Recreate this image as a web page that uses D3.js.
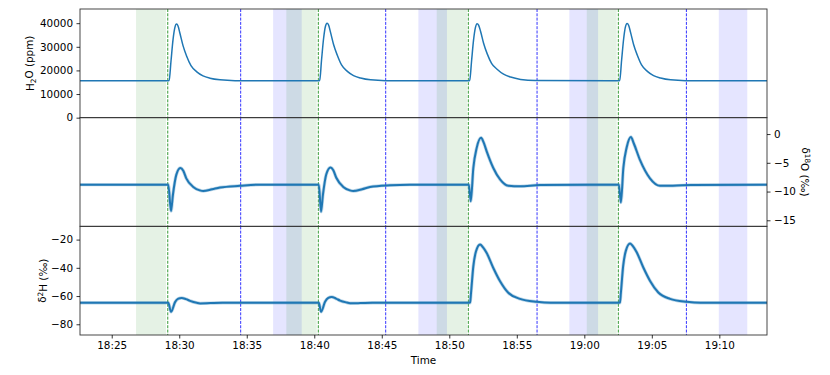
<!DOCTYPE html>
<html>
<head>
<meta charset="utf-8">
<script src="https://cdn.jsdelivr.net/npm/d3@7"></script>
<style>
  body { margin: 0; background: #fff; }
  text { font-family: "DejaVu Sans", sans-serif; fill: #000; }
</style>
</head>
<body>
<div id="canvas"></div>
<script>
// times are minutes after 18:00
var xDomain = [22.65, 73.53];

var greenSpans = [[26.80, 29.02], [37.93, 40.18], [49.07, 51.31], [60.18, 62.40]];
var blueSpans = [[36.95, 39.07], [47.71, 49.83], [58.89, 61.02], [69.96, 72.07]];
var greenLines = [29.15, 40.30, 51.41, 62.52];
var blueLines = [34.55, 45.29, 56.50, 67.56];

// H2O (ppm)
var h2oPoints = [
  [22.65, 15600], [29.15, 15600],
  [29.25, 15700], [29.39, 24000], [29.54, 33000], [29.67, 38000], [29.80, 39600], [29.91, 38800],
  [30.06, 35500], [30.28, 30500], [30.55, 26000], [30.87, 22000], [31.30, 19400], [31.76, 17700],
  [32.28, 16700], [33.02, 16000], [34.13, 15650], [40.30, 15600],
  [40.40, 15700], [40.54, 24500], [40.69, 33500], [40.82, 38500], [40.95, 40000], [41.06, 39200],
  [41.21, 36000], [41.43, 31000], [41.70, 26500], [42.02, 22300], [42.45, 19600], [42.91, 17800],
  [43.43, 16800], [44.17, 16000], [45.28, 15650], [51.41, 15600],
  [51.51, 15700], [51.65, 24000], [51.80, 33000], [51.93, 38000], [52.06, 39800], [52.17, 39200],
  [52.32, 36500], [52.54, 31500], [52.81, 27000], [53.13, 23000], [53.56, 20400], [54.02, 18400],
  [54.54, 17200], [55.28, 16200], [56.39, 15700], [62.52, 15600],
  [62.62, 15700], [62.76, 24200], [62.91, 33200], [63.04, 38300], [63.17, 39900], [63.28, 39100],
  [63.43, 36000], [63.65, 31000], [63.92, 26500], [64.24, 22300], [64.67, 19600], [65.13, 17800],
  [65.65, 16800], [66.39, 16000], [67.50, 15650], [73.53, 15600]
];

// d18O (permil)
var d18oPoints = [
  [22.65, -8.8], [29.15, -8.8],
  [29.19, -8.8], [29.39, -13.4], [29.53, -10.6], [29.78, -7.1], [30.08, -5.9], [30.30, -6.4],
  [30.52, -7.7], [31.04, -9.2], [31.53, -9.8], [31.78, -9.9], [32.43, -9.6], [33.02, -9.3],
  [34.50, -9.0], [35.98, -8.8], [40.30, -8.8],
  [40.34, -8.8], [40.50, -13.5], [40.64, -10.6], [40.89, -7.0], [41.20, -5.8], [41.41, -6.3],
  [41.63, -7.6], [42.15, -9.2], [42.64, -9.8], [42.89, -9.9], [43.54, -9.6], [44.13, -9.2],
  [45.61, -8.9], [47.09, -8.8], [51.41, -8.8],
  [51.45, -8.8], [51.59, -11.7], [51.78, -5.9], [52.03, -2.4], [52.35, -0.65], [52.55, -1.5],
  [52.77, -3.0], [53.26, -5.9], [53.76, -7.9], [54.37, -9.0], [55.24, -9.1], [56.72, -8.85],
  [62.52, -8.8],
  [62.56, -8.8], [62.71, -11.9], [62.89, -5.9], [63.14, -2.3], [63.45, -0.5], [63.66, -1.6],
  [64.12, -4.5], [64.86, -7.7], [65.60, -9.0], [66.56, -9.0], [67.90, -8.85], [73.53, -8.8]
];

// d2H (permil)
var d2hPoints = [
  [22.65, -64.8], [29.15, -64.8],
  [29.19, -64.8], [29.39, -71.2], [29.69, -64.3], [29.93, -61.9], [30.18, -61.3], [30.50, -62.2],
  [30.80, -63.4], [31.30, -64.8], [31.54, -65.2], [32.30, -65.0], [33.20, -64.8], [40.30, -64.8],
  [40.34, -64.8], [40.50, -71.2], [40.80, -64.0], [41.04, -61.3], [41.29, -60.6], [41.61, -61.8],
  [41.91, -63.2], [42.41, -64.6], [42.65, -65.1], [43.40, -65.0], [44.30, -64.8], [51.41, -64.8],
  [51.48, -64.8], [51.54, -64.6], [51.61, -57.7], [51.78, -38.9], [51.98, -28.3], [52.28, -23.5],
  [52.50, -25.5], [52.77, -29.5], [53.26, -40.1], [53.76, -49.5], [54.37, -57.7], [55.24, -62.0],
  [56.48, -64.1], [57.50, -64.8], [62.52, -64.8],
  [62.58, -64.8], [62.64, -64.6], [62.71, -57.5], [62.88, -38.5], [63.08, -27.8], [63.39, -22.8],
  [63.61, -24.8], [63.88, -29.0], [64.37, -39.8], [64.87, -49.3], [65.48, -57.5], [66.35, -62.0],
  [67.59, -64.1], [68.60, -64.8], [73.53, -64.8]
];

var h2oTicks = [0, 10000, 20000, 30000, 40000];
var d18oTicks = [0, -5, -10, -15];
var d2hTicks = [-20, -40, -60, -80];

var W = 830, H = 375;
var m = {t: 9, r: 63, l: 80};
var w = W - m.l - m.r;
var ph = 326 / 3; // each panel height

var svg = d3.select('#canvas').append('svg')
    .attr('width', W)
    .attr('height', H);

function toDate(min){
    return new Date(2024, 0, 1, 18, 0, 0, 0).getTime() + min * 60000;
}

var x = d3.scaleTime()
    .domain(xDomain.map(function(d){ return new Date(toDate(d)); }))
    .range([m.l, m.l + w]);

var panels = [
    {data: h2oPoints, domain: [0, 46000], lw: 1.5, halo: 0},
    {data: d18oPoints, domain: [-16.05, 2.85], lw: 2, halo: 3.4},
    {data: d2hPoints, domain: [-87.6, -10.6], lw: 2, halo: 3.4}
];

var fmt = function(d){ return d3.format('d')(d).replace('-', '\u2212'); };

panels.forEach(function(p, i){
    var top = m.t + i * ph;
    p.y = d3.scaleLinear().domain(p.domain).range([top + ph, top]);
    var g = svg.append('g');

    var clipId = 'clip' + i;
    g.append('clipPath').attr('id', clipId)
        .append('rect').attr('x', m.l).attr('y', top).attr('width', w).attr('height', ph);

    // shaded spans
    blueSpans.forEach(function(s){
        g.append('rect')
            .attr('x', x(toDate(s[0]))).attr('y', top)
            .attr('width', x(toDate(s[1])) - x(toDate(s[0]))).attr('height', ph)
            .style('fill', 'blue').style('fill-opacity', 0.1);
    });
    greenSpans.forEach(function(s){
        g.append('rect')
            .attr('x', x(toDate(s[0]))).attr('y', top)
            .attr('width', x(toDate(s[1])) - x(toDate(s[0]))).attr('height', ph)
            .style('fill', 'green').style('fill-opacity', 0.1);
    });

    // dashed markers
    g.selectAll('line.gl').data(greenLines).enter().append('line')
        .attr('x1', function(d){ return x(toDate(d)); })
        .attr('x2', function(d){ return x(toDate(d)); })
        .attr('y1', top).attr('y2', top + ph)
        .style('stroke', 'green').style('stroke-width', 0.8).style('stroke-dasharray', '3,1.3');
    g.selectAll('line.bl').data(blueLines).enter().append('line')
        .attr('x1', function(d){ return x(toDate(d)); })
        .attr('x2', function(d){ return x(toDate(d)); })
        .attr('y1', top).attr('y2', top + ph)
        .style('stroke', 'blue').style('stroke-width', 0.8).style('stroke-dasharray', '3,1.3');

    var line = d3.line()
        .x(function(d){ return x(toDate(d[0])); })
        .y(function(d){ return p.y(d[1]); })
        .curve(d3.curveMonotoneX);

    // noisy measurements look fuzzy: soft wider stroke under the trace
    if (p.halo) {
        g.append('path')
            .datum(p.data)
            .attr('d', line)
            .attr('clip-path', 'url(#' + clipId + ')')
            .style('fill', 'none')
            .style('stroke', '#1f77b4')
            .style('stroke-opacity', 0.3)
            .style('stroke-width', p.halo)
            .style('stroke-linejoin', 'round');
    }

    g.append('path')
        .datum(p.data)
        .attr('d', line)
        .attr('clip-path', 'url(#' + clipId + ')')
        .style('fill', 'none')
        .style('stroke', '#1f77b4')
        .style('stroke-width', p.lw)
        .style('stroke-linejoin', 'round');

    g.append('rect')
        .attr('x', m.l).attr('y', top).attr('width', w).attr('height', ph)
        .style('fill', 'none').style('stroke', '#333').style('stroke-width', 0.9);
});

function styleAxis(sel){
    sel.select('.domain').remove();
    sel.selectAll('text').style('font-size', '10.4px').style('font-family', '"DejaVu Sans", sans-serif');
    sel.selectAll('line').style('stroke', '#000').style('stroke-width', 0.8);
}

svg.append('g').attr('transform', 'translate(' + m.l + ',0)')
    .call(d3.axisLeft(panels[0].y).tickValues(h2oTicks).tickFormat(fmt).tickSize(3.5).tickPadding(3.5))
    .call(styleAxis);

svg.append('g').attr('transform', 'translate(' + (m.l + w) + ',0)')
    .call(d3.axisRight(panels[1].y).tickValues(d18oTicks).tickFormat(fmt).tickSize(3.5).tickPadding(3.5))
    .call(styleAxis);

svg.append('g').attr('transform', 'translate(' + m.l + ',0)')
    .call(d3.axisLeft(panels[2].y).tickValues(d2hTicks).tickFormat(fmt).tickSize(3.5).tickPadding(3.5))
    .call(styleAxis);

svg.append('g').attr('transform', 'translate(0,' + (m.t + 3 * ph) + ')')
    .call(d3.axisBottom(x).ticks(d3.timeMinute.every(5)).tickFormat(d3.timeFormat('%H:%M')).tickSize(3.5).tickPadding(3.5))
    .call(styleAxis);

// axis labels
svg.append('text')
    .attr('x', m.l + w / 2).attr('y', 364)
    .attr('text-anchor', 'middle')
    .style('font-size', '10.4px')
    .text('Time');

var l1 = svg.append('text')
    .attr('transform', 'translate(30,' + (m.t + ph / 2) + ') rotate(-90)')
    .attr('text-anchor', 'middle').attr('dy', '0.35em')
    .style('font-size', '10.4px');
l1.append('tspan').text('H');
l1.append('tspan').text('2').attr('dy', '0.3em').style('font-size', '7.3px');
l1.append('tspan').text('O (ppm)').attr('dy', '-0.3em');

var l2 = svg.append('text')
    .attr('transform', 'translate(42,' + (m.t + 2.5 * ph) + ') rotate(-90)')
    .attr('text-anchor', 'middle').attr('dy', '0.35em')
    .style('font-size', '10.4px');
l2.append('tspan').text('\u03b4');
l2.append('tspan').text('2').attr('dy', '-0.4em').style('font-size', '7.3px');
l2.append('tspan').text('H (\u2030)').attr('dy', '0.4em');

var l3 = svg.append('text')
    .attr('transform', 'translate(806,' + (m.t + 1.5 * ph) + ') rotate(90)')
    .attr('text-anchor', 'middle').attr('dy', '0.35em')
    .style('font-size', '10.4px');
l3.append('tspan').text('\u03b4');
l3.append('tspan').text('18').attr('dy', '-0.4em').style('font-size', '7.3px');
l3.append('tspan').text('O (\u2030)').attr('dy', '0.4em');
</script>
</body>
</html>
